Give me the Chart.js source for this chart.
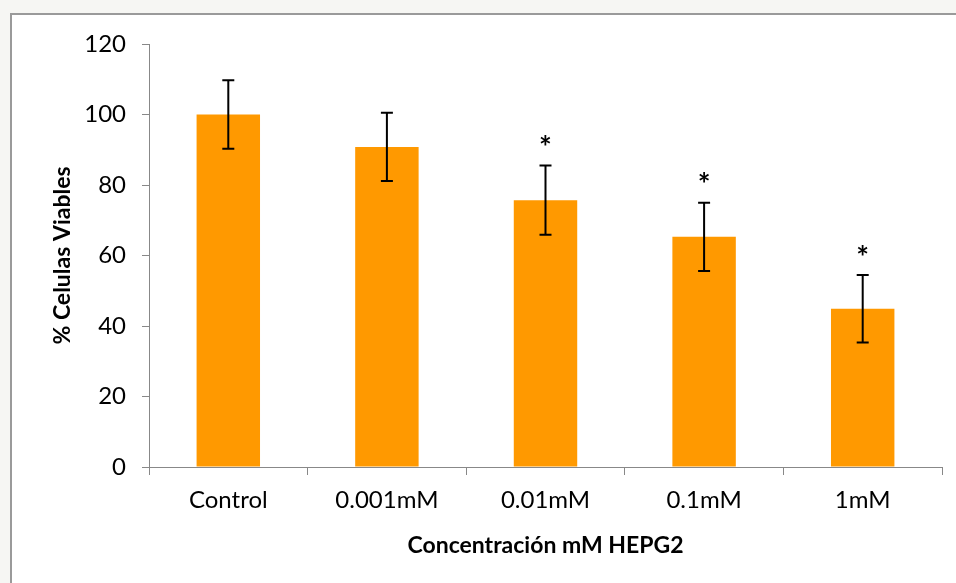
<!DOCTYPE html>
<html>
<head>
<meta charset="utf-8">
<script src="https://cdn.jsdelivr.net/npm/chart.js@4/dist/chart.umd.min.js"></script>
<style>
  html, body { margin: 0; padding: 0; width: 956px; height: 583px; overflow: hidden; background: #f6f6f3; }
  #frame { position: absolute; left: 10px; top: 13px; width: 960px; height: 600px; background: #fff;
           border-left: 2px solid #9a9a9a; border-top: 2px solid #9a9a9a; }
  #wrap { position: absolute; left: 0; top: 0; width: 956px; height: 583px; }
</style>
</head>
<body>
<div id="frame"></div>
<div id="wrap"><canvas id="c" width="956" height="583"></canvas></div>
<script>
// Viabilidad celular HEPG2 (% células viables) por concentración
const categories = ['Control', '0.001mM', '0.01mM', '0.1mM', '1mM'];
const viability  = [100, 90.8, 75.7, 65.3, 44.9];
const errors     = [9.7, 9.7, 9.8, 9.7, 9.6];
const significant = [false, false, true, true, true];
const yTicks = [0, 20, 40, 60, 80, 100, 120];

const FONT = 'Lato, "Open Sans", sans-serif';

// Error bars (mean ± SD) and significance asterisks
const errorBarPlugin = {
  id: 'errorBars',
  afterDatasetsDraw(chart) {
    const { ctx, scales: { y } } = chart;
    const meta = chart.getDatasetMeta(0);
    ctx.save();
    ctx.strokeStyle = '#000';
    ctx.lineWidth = 2;
    meta.data.forEach((bar, i) => {
      const x = bar.x;
      const top = y.getPixelForValue(viability[i] + errors[i]);
      const bot = y.getPixelForValue(viability[i] - errors[i]);
      const cap = 6;
      ctx.beginPath();
      ctx.moveTo(x, top); ctx.lineTo(x, bot);
      ctx.moveTo(x - cap, top); ctx.lineTo(x + cap, top);
      ctx.moveTo(x - cap, bot); ctx.lineTo(x + cap, bot);
      ctx.stroke();
      if (significant[i]) {
        ctx.fillStyle = '#000';
        ctx.font = 'bold 30px ' + FONT;
        ctx.textAlign = 'center';
        ctx.textBaseline = 'middle';
        ctx.fillText('*', x, top - 17);
      }
    });
    ctx.restore();
  }
};

new Chart(document.getElementById('c'), {
  type: 'bar',
  data: {
    labels: categories,
    datasets: [{
      data: viability,
      backgroundColor: '#ff9900',
      borderWidth: 0,
      barPercentage: 0.4,
      categoryPercentage: 1.0
    }]
  },
  options: {
    responsive: false,
    devicePixelRatio: 1,
    animation: false,
    layout: { padding: { left: 0, right: 14, top: 44, bottom: 0 } },
    plugins: { legend: { display: false }, tooltip: { enabled: false } },
    scales: {
      y: {
        min: 0, max: 120,
        afterBuildTicks(scale) { scale.ticks = yTicks.map(v => ({ value: v })); },
        afterFit(scale) { scale.width = 149; },
        ticks: { font: { family: FONT, size: 24 }, color: '#000', padding: 16 },
        grid: { drawOnChartArea: false, drawTicks: true, tickLength: 7, color: '#888' },
        border: { color: '#888', width: 1 },
        title: {
          display: true, text: '% Celulas Viables', color: '#000',
          font: { family: FONT, size: 23, weight: 'bold' },
          padding: { top: 49, bottom: 0 }
        }
      },
      x: {
        afterFit(scale) { scale.height = 116; },
        ticks: { font: { family: FONT, size: 24 }, color: '#000', padding: 11, maxRotation: 0 },
        grid: { offset: true, drawOnChartArea: false, drawTicks: true, tickLength: 8, color: '#888' },
        border: { color: '#888', width: 1 },
        title: {
          display: true, text: 'Concentración mM HEPG2', color: '#000',
          font: { family: FONT, size: 23, weight: 'bold' },
          padding: { top: 0, bottom: 24 }
        }
      }
    }
  },
  plugins: [errorBarPlugin]
});
</script>
</body>
</html>
